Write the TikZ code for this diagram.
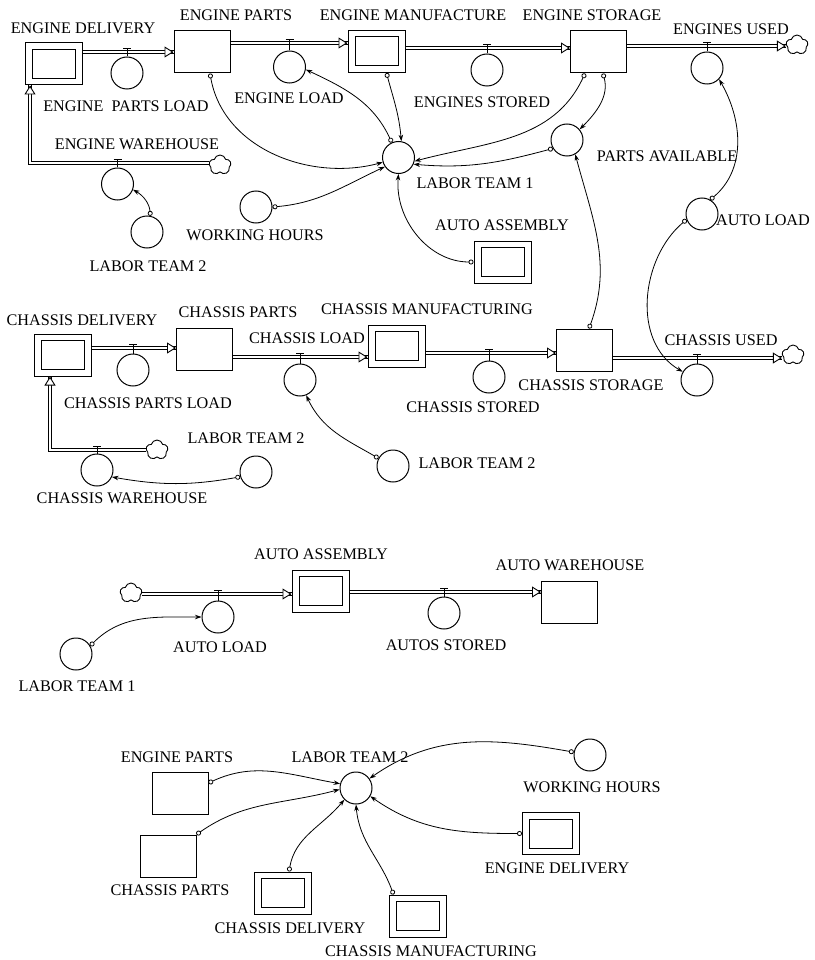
\documentclass[tikz,border=0pt]{standalone}
\usepackage{fontspec}
\setmainfont{Liberation Serif}
\usetikzlibrary{arrows.meta,shapes.symbols}

\tikzset{
  lbl/.style={inner sep=0pt, font=\fontsize{16.2}{18}\selectfont},
  stock/.style={draw, line width=1pt, rectangle, minimum width=56pt, minimum height=42pt, inner sep=0pt},
  conv/.style={stock, minimum width=57pt, minimum height=42pt,
    path picture={\draw[line width=1pt] ([shift={(7pt,-6.5pt)}]path picture bounding box.north west)
      rectangle ([shift={(-7pt,6.5pt)}]path picture bounding box.south east);}},
  aux/.style={draw, line width=1pt, circle, minimum size=32pt, inner sep=0pt},
  src/.style={draw, line width=0.9pt, cloud, cloud puffs=5, aspect=1.1, minimum width=22pt, minimum height=20pt, inner sep=0pt},
  pipe/.style={double, double distance=2.6pt, line width=0.8pt},
  pipetip/.style={line width=0.9pt, -{Triangle[fill=white, length=9pt, width=11pt]}},
  link/.style={line width=0.8pt, {Circle[open, length=5pt]}-{Stealth[length=6.5pt, width=4.5pt]}},
}

\begin{document}
\begin{tikzpicture}[x=1pt, y=1pt]
	\useasboundingbox (0,0) rectangle (814,-960);

	% engine line
	\node[conv] (ed) at (53.5,-64) {};
	\node[stock] (ep) at (202,-52) {};
	\node[conv] (em) at (376.5,-51.5) {};
	\node[stock] (es) at (598.5,-52) {};
	\node[src] (eu) at (797,-45) {};
	\node[src] (ewc) at (220,-165) {};
	\coordinate (ew-k) at (30,-163);

	\coordinate (epl-t) at (127,-52);   \node[aux] (epl) at (127,-73) {};
	\coordinate (el-t) at (289.5,-43);  \node[aux] (el) at (289.5,-67) {};
	\coordinate (ess-t) at (487,-48);   \node[aux] (ess) at (487,-70) {};
	\coordinate (eus-t) at (707,-46);   \node[aux] (eus) at (707,-68) {};
	\coordinate (ew-t) at (117.5,-163); \node[aux] (ew) at (117.5,-184) {};

	\node[aux] (lt1) at (398.5,-157.5) {};
	\node[aux] (pa) at (567,-140) {};
	\node[aux] (al) at (702,-214) {};
	\node[aux] (wh) at (256,-207) {};
	\node[aux] (lt2) at (147,-232) {};
	\node[conv] (aa) at (502.5,-262) {};

	\node[lbl] (ed-l) at (83,-28) {ENGINE DELIVERY};
	\node[lbl] (ep-l) at (236,-15) {ENGINE PARTS};
	\node[lbl] (em-l) at (413,-15) {ENGINE MANUFACTURE};
	\node[lbl] (es-l) at (592,-15) {ENGINE STORAGE};
	\node[lbl] (eus-l) at (731,-29) {ENGINES USED};
	\node[lbl] (epl-l) at (126,-106) {ENGINE\ \ PARTS LOAD};
	\node[lbl] (el-l) at (289,-98) {ENGINE LOAD};
	\node[lbl] (ess-l) at (482,-102) {ENGINES STORED};
	\node[lbl] (ew-l) at (137,-144) {ENGINE WAREHOUSE};
	\node[lbl] (lt1-l) at (475,-183) {LABOR TEAM 1};
	\node[lbl] (pa-l) at (667,-156) {PARTS AVAILABLE};
	\node[lbl] (al-l) at (763,-220) {AUTO LOAD};
	\node[lbl] (aa-l) at (502,-225) {AUTO ASSEMBLY};
	\node[lbl] (wh-l) at (255,-235) {WORKING HOURS};
	\node[lbl] (lt2-l) at (148,-266) {LABOR TEAM 2};

	% chassis line
	\node[conv] (cd) at (62.5,-355) {};
	\node[stock] (cp) at (204.5,-349) {};
	\node[conv] (cm) at (396.5,-346) {};
	\node[stock] (cs) at (584.5,-350) {};
	\node[src] (cu) at (793,-355) {};
	\node[src] (cwc) at (157,-450) {};
	\coordinate (cw-k) at (50,-450);

	\coordinate (cpl-t) at (133,-348); \node[aux] (cpl) at (133,-370) {};
	\coordinate (cl-t) at (300,-357);  \node[aux] (cl) at (300,-380) {};
	\coordinate (cst-t) at (489,-353); \node[aux] (cst) at (489,-377) {};
	\coordinate (cus-t) at (697,-358); \node[aux] (cus) at (697,-380) {};
	\coordinate (cw-t) at (97,-450);   \node[aux] (cw) at (97,-470) {};

	\node[aux] (lt2b) at (256,-472) {};
	\node[aux] (lt2c) at (393,-466) {};

	\node[lbl] (cd-l) at (82,-320) {CHASSIS DELIVERY};
	\node[lbl] (cp-l) at (238,-312) {CHASSIS PARTS};
	\node[lbl] (cl-l) at (307,-338) {CHASSIS LOAD};
	\node[lbl] (cm-l) at (427,-309) {CHASSIS MANUFACTURING};
	\node[lbl] (cus-l) at (721,-340) {CHASSIS USED};
	\node[lbl] (cpl-l) at (148,-403) {CHASSIS PARTS LOAD};
	\node[lbl] (cst-l) at (473,-407) {CHASSIS STORED};
	\node[lbl] (cs-l) at (591,-385) {CHASSIS STORAGE};
	\node[lbl] (lt2b-l) at (246,-438) {LABOR TEAM 2};
	\node[lbl] (lt2c-l) at (477,-463) {LABOR TEAM 2};
	\node[lbl] (cw-l) at (122,-498) {CHASSIS WAREHOUSE};

	% auto line
	\node[src] (aas) at (131,-593) {};
	\node[conv] (aab) at (320.5,-591) {};
	\node[stock] (aw) at (569.5,-602) {};
	\coordinate (al2-t) at (218,-594); \node[aux] (al2) at (218,-617) {};
	\coordinate (as-t) at (444,-592);  \node[aux] (as) at (444,-613) {};
	\node[aux] (lt1b) at (76,-654) {};

	\node[lbl] (aab-l) at (321,-554) {AUTO ASSEMBLY};
	\node[lbl] (aw-l) at (570,-565) {AUTO WAREHOUSE};
	\node[lbl] (al2-l) at (220,-647) {AUTO LOAD};
	\node[lbl] (as-l) at (446,-645) {AUTOS STORED};
	\node[lbl] (lt1b-l) at (77,-686) {LABOR TEAM 1};

	% labor team 2
	\node[stock] (epb) at (180,-793) {};
	\node[stock] (cpb) at (168,-856) {};
	\node[conv] (cdb) at (283,-893) {};
	\node[conv] (cmb) at (417.5,-916) {};
	\node[conv] (edb) at (551,-833.5) {};
	\node[aux] (lt2d) at (356,-788) {};
	\node[aux] (whb) at (590,-755) {};

	\node[lbl] (epb-l) at (177,-757) {ENGINE PARTS};
	\node[lbl] (lt2d-l) at (350,-757) {LABOR TEAM 2};
	\node[lbl] (whb-l) at (592,-787) {WORKING HOURS};
	\node[lbl] (edb-l) at (557,-868) {ENGINE DELIVERY};
	\node[lbl] (cpb-l) at (170,-890) {CHASSIS PARTS};
	\node[lbl] (cdb-l) at (290,-928) {CHASSIS DELIVERY};
	\node[lbl] (cmb-l) at (431,-951) {CHASSIS MANUFACTURING};

	% pipes
	\draw[pipe] (ed.east |- epl-t) -- (ep.west |- epl-t);
	\draw[pipetip] (ep.west |- epl-t) ++(-1,0) -- ++(1,0);
	\draw[pipe] (ep.east |- el-t) -- (em.west |- el-t);
	\draw[pipetip] (em.west |- el-t) ++(-1,0) -- ++(1,0);
	\draw[pipe] (em.east |- ess-t) -- (es.west |- ess-t);
	\draw[pipetip] (es.west |- ess-t) ++(-1,0) -- ++(1,0);
	\draw[pipe] (es.east |- eus-t) -- (eu.west |- eus-t);
	\draw[pipetip] (eu.west |- eus-t) ++(-1,0) -- ++(1,0);
	\draw[pipe] (ewc.west |- ew-t) -- (ew-k) -- (ew-k |- ed.south);
	\draw[pipetip] (ew-k |- ed.south) ++(0,-1) -- ++(0,1);

	\draw[pipe] (cd.east |- cpl-t) -- (cp.west |- cpl-t);
	\draw[pipetip] (cp.west |- cpl-t) ++(-1,0) -- ++(1,0);
	\draw[pipe] (cp.east |- cl-t) -- (cm.west |- cl-t);
	\draw[pipetip] (cm.west |- cl-t) ++(-1,0) -- ++(1,0);
	\draw[pipe] (cm.east |- cst-t) -- (cs.west |- cst-t);
	\draw[pipetip] (cs.west |- cst-t) ++(-1,0) -- ++(1,0);
	\draw[pipe] (cs.east |- cus-t) -- (cu.west |- cus-t);
	\draw[pipetip] (cu.west |- cus-t) ++(-1,0) -- ++(1,0);
	\draw[pipe] (cwc.west |- cw-t) -- (cw-k) -- (cw-k |- cd.south);
	\draw[pipetip] (cw-k |- cd.south) ++(0,-1) -- ++(0,1);

	\draw[pipe] (aas.east |- al2-t) -- (aab.west |- al2-t);
	\draw[pipetip] (aab.west |- al2-t) ++(-1,0) -- ++(1,0);
	\draw[pipe] (aab.east |- as-t) -- (aw.west |- as-t);
	\draw[pipetip] (aw.west |- as-t) ++(-1,0) -- ++(1,0);

	% valves
	\foreach \v in {epl,el,ess,eus,ew,cpl,cl,cst,cus,cw,al2,as}
		\draw[line width=0.9pt] (\v.north) -- ([yshift=4pt]\v-t)
			([xshift=-4pt,yshift=4pt]\v-t) -- ([xshift=4pt,yshift=4pt]\v-t);

	% links
	\draw[link] ([xshift=8pt]ep.south) to[out=-80,in=195] (lt1.197);
	\draw[link] (lt1.114) to[out=115,in=-25] (el.-9);
	\draw[link] ([xshift=10pt]em.south) to[out=-75,in=95] (lt1.80);
	\draw[link] ([xshift=-13.5pt]es.south) to[out=-115,in=15] (lt1.-13);
	\draw[link] ([xshift=4.5pt]es.south) to[out=-75,in=45] (pa.40);
	\draw[link] (pa.211) to[out=195,in=-5] (lt1.-24);
	\draw[link] (aa.west) to[out=180,in=-95] (lt1.-90);
	\draw[link] ([xshift=4.5pt]cs.north) to[out=70,in=-75] (pa.-60);
	\draw[link] (al.60) to[out=40,in=-60] (eus.-43);
	\draw[link] (al.200) to[out=-140,in=150] (cus.150);
	\draw[link] (wh.east) to[out=5,in=205] (lt1.214);
	\draw[link] (lt2.78) to[out=95,in=-30] (ew.-20);
	\draw[link] (lt2b.197) to[out=190,in=-10] (cw.-25);
	\draw[link] (lt2c.152) to[out=150,in=-65] (cl.-68);
	\draw[link] (lt1b.30) to[out=45,in=180] (al2.west);
	\draw[link] ([yshift=10pt]epb.east) to[out=25,in=170] (lt2d.165);
	\draw[link] (cpb.north east) to[out=35,in=195] (lt2d.185);
	\draw[link] ([xshift=6pt]cdb.north) to[out=80,in=-130] (lt2d.225);
	\draw[link] ([xshift=5pt]cmb.north west) to[out=110,in=-85] (lt2d.-90);
	\draw[link] (whb.170) to[out=170,in=35] (lt2d.35);
	\draw[link] (edb.west) to[out=180,in=-35] (lt2d.-30);
\end{tikzpicture}
\end{document}
